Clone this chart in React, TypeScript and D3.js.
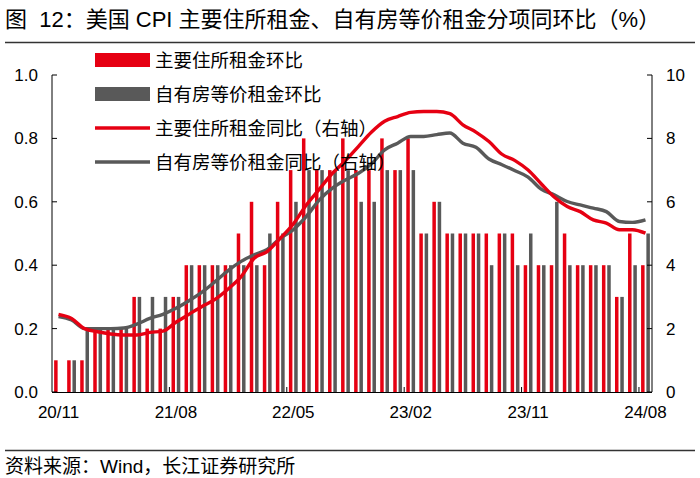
import React from "react";
import * as d3 from "d3";

const categories = [
  "20/11","20/12","21/01","21/02","21/03","21/04","21/05","21/06","21/07","21/08",
  "21/09","21/10","21/11","21/12","22/01","22/02","22/03","22/04","22/05","22/06",
  "22/07","22/08","22/09","22/10","22/11","22/12","23/01","23/02","23/03","23/04",
  "23/05","23/06","23/07","23/08","23/09","23/10","23/11","23/12","24/01","24/02",
  "24/03","24/04","24/05","24/06","24/07","24/08",
];
const tickLabels = ["20/11", "21/08", "22/05", "23/02", "23/11", "24/08"];
const leftTicks = [0, 0.2, 0.4, 0.6, 0.8, 1.0];
const rightTicks = [0, 2, 4, 6, 8, 10];

const rentMoM = [
  0.1,0.1,0.1,0.2,0.2,0.2,0.3,0.2,0.2,0.3,
  0.4,0.4,0.4,0.4,0.5,0.6,0.4,0.6,0.7,0.8,
  0.7,0.7,0.8,0.7,0.7,0.8,0.7,0.8,0.5,0.6,
  0.5,0.5,0.5,0.5,0.5,0.5,0.4,0.4,0.4,0.5,
  0.4,0.4,0.4,0.3,0.5,0.4,
];
const oerMoM = [
  0.0,0.1,0.2,0.2,0.2,0.2,0.3,0.3,0.3,0.3,
  0.4,0.4,0.4,0.4,0.4,0.4,0.5,0.5,0.6,0.7,
  0.7,0.7,0.7,0.6,0.6,0.7,0.7,0.7,0.5,0.6,
  0.5,0.5,0.5,0.4,0.5,0.4,0.5,0.4,0.6,0.4,
  0.4,0.4,0.4,0.3,0.4,0.5,
];
const rentYoY = [
  2.45,2.32,2.0,1.9,1.83,1.8,1.8,1.88,1.92,2.2,
  2.45,2.7,2.92,3.25,3.64,4.22,4.43,4.85,5.3,5.9,
  6.4,6.9,7.3,7.75,8.2,8.54,8.69,8.82,8.85,8.85,
  8.78,8.43,8.2,7.9,7.5,7.3,7.0,6.57,6.15,5.85,
  5.69,5.43,5.33,5.12,5.12,5.01,
];
const oerYoY = [
  2.38,2.27,2.0,2.0,2.0,2.02,2.14,2.32,2.45,2.64,
  2.88,3.15,3.48,3.83,4.12,4.33,4.5,4.85,5.12,5.54,
  6.06,6.43,6.69,6.9,7.2,7.64,7.85,8.06,8.06,8.12,
  8.17,7.85,7.72,7.35,7.17,6.98,6.78,6.4,6.22,6.01,
  5.9,5.8,5.69,5.38,5.35,5.43,
];

const legendItems = [
  { label: "主要住所租金环比", kind: "bar", color: "#E60012" },
  { label: "自有房等价租金环比", kind: "bar", color: "#595959" },
  { label: "主要住所租金同比（右轴）", kind: "line", color: "#E60012" },
  { label: "自有房等价租金同比（右轴）", kind: "line", color: "#595959" },
];

const RED = "#E60012";
const GRAY = "#595959";
const FONT = "'Liberation Sans', Arial, 'Noto Sans CJK SC', sans-serif";

export default function App() {
  const W = 700, H = 478;
  const left = 52, right = 652, top = 75, bottom = 392;

  const x = d3.scaleBand<string>().domain(categories).range([left, right]).padding(0);
  const inner = d3.scaleBand<string>().domain(["r", "g"]).range([0, x.bandwidth()])
    .paddingInner(0.34).paddingOuter(0.4);
  const yL = d3.scaleLinear().domain([0, 1]).range([bottom, top]);
  const yR = d3.scaleLinear().domain([0, 10]).range([bottom, top]);

  const cx = (i: number) => (x(categories[i]) as number) + x.bandwidth() / 2;
  const line = d3.line<number>().x((_, i) => cx(i)).y((d) => yR(d)).curve(d3.curveMonotoneX);

  const tickIdx = tickLabels.map((t) => categories.indexOf(t));

  return (
    <svg width={W} height={H} style={{ position: "absolute", left: 0, top: 0, background: "#fff" }}
      fontFamily={FONT}>
      <rect x={0} y={0} width={W} height={H} fill="#fff" />
      <text x={5} y={27} fontSize={22} fill="#000" style={{ whiteSpace: "pre" }}>图  12：美国 CPI 主要住所租金、自有房等价租金分项同环比（%）</text>
      <line x1={5} x2={695} y1={42.5} y2={42.5} stroke="#333" strokeWidth={1.5} />

      {/* bars */}
      {categories.map((c, i) => (
        <g key={c}>
          <rect x={(x(c) as number) + (inner("r") as number)} width={inner.bandwidth()}
            y={yL(rentMoM[i])} height={bottom - yL(rentMoM[i])} fill={RED} />
          <rect x={(x(c) as number) + (inner("g") as number)} width={inner.bandwidth()}
            y={yL(oerMoM[i])} height={bottom - yL(oerMoM[i])} fill={GRAY} />
        </g>
      ))}

      {/* lines */}
      <path d={line(oerYoY) || ""} fill="none" stroke={GRAY} strokeWidth={3.4} strokeLinejoin="round" />
      <path d={line(rentYoY) || ""} fill="none" stroke={RED} strokeWidth={3.4} strokeLinejoin="round" />

      {/* axes */}
      <line x1={left} x2={left} y1={top} y2={bottom} stroke="#000" strokeWidth={1} />
      <line x1={right} x2={right} y1={top} y2={bottom} stroke="#000" strokeWidth={1} />
      <line x1={left} x2={right} y1={bottom + 0.5} y2={bottom + 0.5} stroke="#000" strokeWidth={1} />
      {leftTicks.map((t) => (
        <g key={"l" + t}>
          <line x1={left} x2={left + 5} y1={yL(t)} y2={yL(t)} stroke="#000" />
          <text x={38} y={yL(t) + 6} fontSize={17} textAnchor="end">{t.toFixed(1)}</text>
        </g>
      ))}
      {rightTicks.map((t) => (
        <g key={"r" + t}>
          <line x1={right - 5} x2={right} y1={yR(t)} y2={yR(t)} stroke="#000" />
          <text x={666} y={yR(t) + 6} fontSize={17} textAnchor="start">{t}</text>
        </g>
      ))}
      {tickIdx.map((i, k) => (
        <g key={"x" + k}>
          {i > 0 && (
            <line x1={x(categories[i]) as number} x2={x(categories[i]) as number}
              y1={bottom} y2={bottom - 5} stroke="#000" />
          )}
          <text x={cx(i)} y={418} fontSize={17} textAnchor="middle">{tickLabels[k]}</text>
        </g>
      ))}

      {/* legend */}
      {legendItems.map((it, k) => {
        const yy = 60 + k * 34;
        return (
          <g key={it.label}>
            {it.kind === "bar" ? (
              <rect x={95} y={yy - 7} width={55} height={14} fill={it.color} />
            ) : (
              <line x1={95} x2={150} y1={yy} y2={yy} stroke={it.color} strokeWidth={3.4} />
            )}
            <text x={155} y={yy + 6.5} fontSize={18.5} fill="#000">{it.label}</text>
          </g>
        );
      })}

      <line x1={5} x2={695} y1={450.5} y2={450.5} stroke="#333" strokeWidth={1.5} />
      <text x={5} y={473} fontSize={19} fill="#000">资料来源：Wind，长江证券研究所</text>
    </svg>
  );
}
